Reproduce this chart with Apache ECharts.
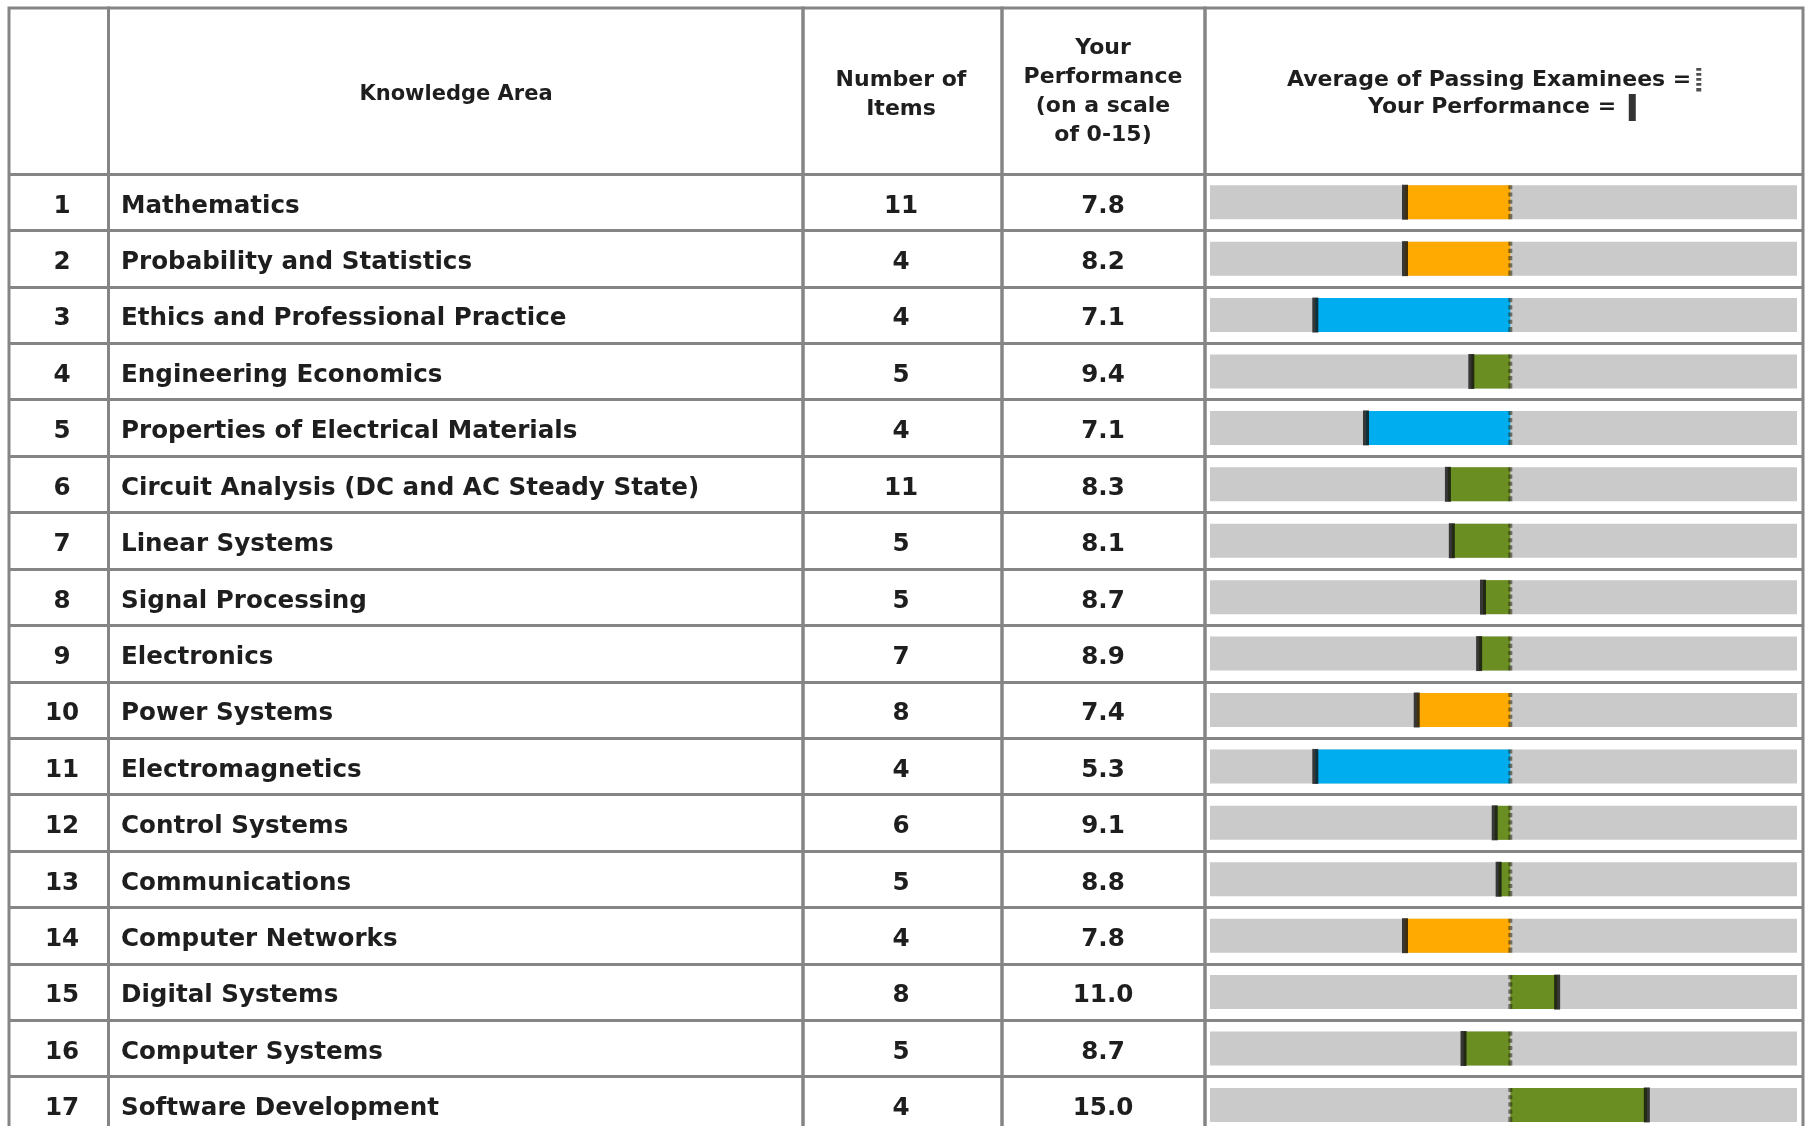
<!DOCTYPE html>
<html>
<head>
<meta charset="utf-8">
<script src="https://cdn.jsdelivr.net/npm/echarts@6/dist/echarts.min.js"></script>
<style>
  html, body { margin: 0; padding: 0; background: #ffffff; }
  #chart { width: 1808px; height: 1126px; }
</style>
</head>
<body>
<div id="chart"></div>
<script>
// table rows
const areas = [
  'Mathematics',
  'Probability and Statistics',
  'Ethics and Professional Practice',
  'Engineering Economics',
  'Properties of Electrical Materials',
  'Circuit Analysis (DC and AC Steady State)',
  'Linear Systems',
  'Signal Processing',
  'Electronics',
  'Power Systems',
  'Electromagnetics',
  'Control Systems',
  'Communications',
  'Computer Networks',
  'Digital Systems',
  'Computer Systems',
  'Software Development',
];
const itemCounts = [11, 4, 4, 5, 4, 11, 5, 5, 7, 8, 4, 6, 5, 4, 8, 5, 4];
const yourPerformance = [7.8, 8.2, 7.1, 9.4, 7.1, 8.3, 8.1, 8.7, 8.9, 7.4, 5.3, 9.1, 8.8, 7.8, 11.0, 8.7, 15.0];
const passingAverage = [10.5, 10.9, 12.1, 10.4, 10.8, 9.9, 9.6, 9.4, 9.7, 9.8, 10.3, 9.5, 9.1, 10.5, 9.8, 9.9, 11.5];

const rowNumbers = areas.map((_, i) => String(i + 1));
const perfLabels = yourPerformance.map((v) => v.toFixed(1));
const gaps = yourPerformance.map((v, i) => +(v - passingAverage[i]).toFixed(2));

const FONT = 'DejaVu Sans';
const TEXT_COLOR = '#1e1e1e';
const LINE_COLOR = '#858585';

// column edges of the table (px)
const colEdges = [9, 108.5, 803, 1002, 1205, 1803];
const TABLE_TOP = 8;
const BODY_TOP = 174;
const TEXT_SHIFT = 4; // body text sits a bit below the row middle
const ROW_H = 56.42;
const BODY_H = ROW_H * areas.length;

const DASH_PATH = 'path://M0,0h7v4h-7zM0,7h7v4h-7zM0,14h7v4h-7zM0,21h7v4h-7zM0,28h7v5h-7z';

function gapColor(gap) {
  if (gap > -2) return '#6b8e22';
  if (gap > -3.2) return '#ffaa00';
  return '#00aeef';
}

function bodyLabelAxis(data, margin, align) {
  return {
    type: 'category',
    gridIndex: 6,
    position: 'left',
    inverse: true,
    data: data,
    axisLine: { show: false },
    axisTick: { show: false },
    splitLine: { show: false },
    axisLabel: {
      inside: true,
      interval: 0,
      margin: margin,
      align: align,
      fontFamily: FONT,
      fontSize: 24.6,
      fontWeight: 'bold',
      color: TEXT_COLOR,
    },
  };
}

function headerTitle(text, x, y, size, lineHeight) {
  return {
    text: text,
    left: x,
    top: y,
    padding: 0,
    textAlign: 'center',
    textVerticalAlign: 'middle',
    textStyle: {
      fontFamily: FONT,
      fontSize: size,
      fontWeight: 'bold',
      color: TEXT_COLOR,
      lineHeight: lineHeight,
    },
  };
}

function buildOption() {
  const grids = [];
  const xAxes = [];
  const yAxes = [];

  // column frames
  for (let i = 0; i < colEdges.length - 1; i++) {
    grids.push({
      show: true,
      outerBoundsMode: 'none',
      left: colEdges[i],
      width: colEdges[i + 1] - colEdges[i],
      top: TABLE_TOP,
      height: BODY_TOP - TABLE_TOP + BODY_H,
      borderColor: LINE_COLOR,
      borderWidth: 3,
      backgroundColor: 'transparent',
    });
    xAxes.push({ type: 'value', gridIndex: i, show: false });
    yAxes.push({ type: 'value', gridIndex: i, show: false });
  }

  // row lines
  grids.push({
    outerBoundsMode: 'none',
    left: colEdges[0],
    width: colEdges[5] - colEdges[0],
    top: BODY_TOP,
    height: BODY_H,
  });
  xAxes.push({ type: 'value', gridIndex: 5, show: false, min: 0, max: 1 });
  yAxes.push({
    type: 'category',
    gridIndex: 5,
    position: 'left',
    inverse: true,
    data: rowNumbers,
    axisLine: { show: false },
    axisTick: { show: false },
    axisLabel: { show: false },
    splitLine: { show: true, interval: 0, lineStyle: { color: LINE_COLOR, width: 3 } },
  });

  // table body text
  grids.push({
    outerBoundsMode: 'none',
    left: colEdges[0],
    width: colEdges[5] - colEdges[0],
    top: BODY_TOP + TEXT_SHIFT,
    height: BODY_H,
  });
  xAxes.push({ type: 'value', gridIndex: 6, show: false, min: 0, max: 1 });
  yAxes.push(bodyLabelAxis(rowNumbers, 53, 'center'));
  yAxes.push(bodyLabelAxis(areas, 112, 'left'));
  yAxes.push(bodyLabelAxis(itemCounts.map(String), 892, 'center'));
  yAxes.push(bodyLabelAxis(perfLabels, 1094, 'center'));

  // performance bars
  grids.push({ outerBoundsMode: 'none', left: 1210, width: 587, top: BODY_TOP, height: BODY_H });
  xAxes.push({ type: 'value', gridIndex: 7, show: false, min: -7.7, max: 7.35 });
  yAxes.push({ type: 'category', gridIndex: 7, show: false, inverse: true, data: rowNumbers });
  const barX = xAxes.length - 1;
  const barY = yAxes.length - 1;

  const legendText = { fontFamily: FONT, fontSize: 22, fontWeight: 'bold', color: TEXT_COLOR };

  return {
    backgroundColor: '#ffffff',
    animation: false,
    title: [
      headerTitle('Knowledge Area', 456, 94.5, 21, 24),
      headerTitle('Number of\nItems', 901, 95, 22, 29),
      headerTitle('Your\nPerformance\n(on a scale\nof 0-15)', 1103, 92, 22, 29),
    ],
    legend: [
      {
        left: 1287,
        top: 68,
        padding: 0,
        selectedMode: false,
        align: 'right',
        icon: DASH_PATH,
        itemWidth: 5,
        itemHeight: 24,
        formatter: '{name} =',
        textStyle: legendText,
        data: [{ name: 'Average of Passing Examinees', itemStyle: { color: '#222222' } }],
      },
      {
        left: 1368,
        top: 94,
        padding: 0,
        selectedMode: false,
        align: 'right',
        icon: 'rect',
        itemWidth: 7,
        itemHeight: 27,
        formatter: '{name} = ',
        textStyle: legendText,
        data: [{ name: 'Your Performance', itemStyle: { color: '#000000' } }],
      },
    ],
    grid: grids,
    xAxis: xAxes,
    yAxis: yAxes,
    series: [
      {
        name: 'Gap',
        type: 'bar',
        xAxisIndex: barX,
        yAxisIndex: barY,
        barWidth: 34,
        silent: true,
        showBackground: true,
        backgroundStyle: { color: '#cacaca' },
        data: gaps.map((g) => ({ value: g, itemStyle: { color: gapColor(g) } })),
      },
      {
        name: 'Average of Passing Examinees',
        type: 'scatter',
        xAxisIndex: barX,
        yAxisIndex: barY,
        silent: true,
        symbol: DASH_PATH,
        symbolSize: [4, 34],
        itemStyle: { color: 'rgba(40, 40, 20, 0.7)' },
        z: 3,
        data: gaps.map((_, i) => [0, i]),
      },
      {
        name: 'Your Performance',
        type: 'scatter',
        xAxisIndex: barX,
        yAxisIndex: barY,
        silent: true,
        symbol: 'rect',
        symbolSize: [6, 35],
        itemStyle: { color: '#111111' },
        z: 4,
        data: gaps.map((g, i) => [g, i]),
      },
    ],
  };
}

const myChart = echarts.init(document.getElementById('chart'));
myChart.setOption(buildOption());
</script>
</body>
</html>
